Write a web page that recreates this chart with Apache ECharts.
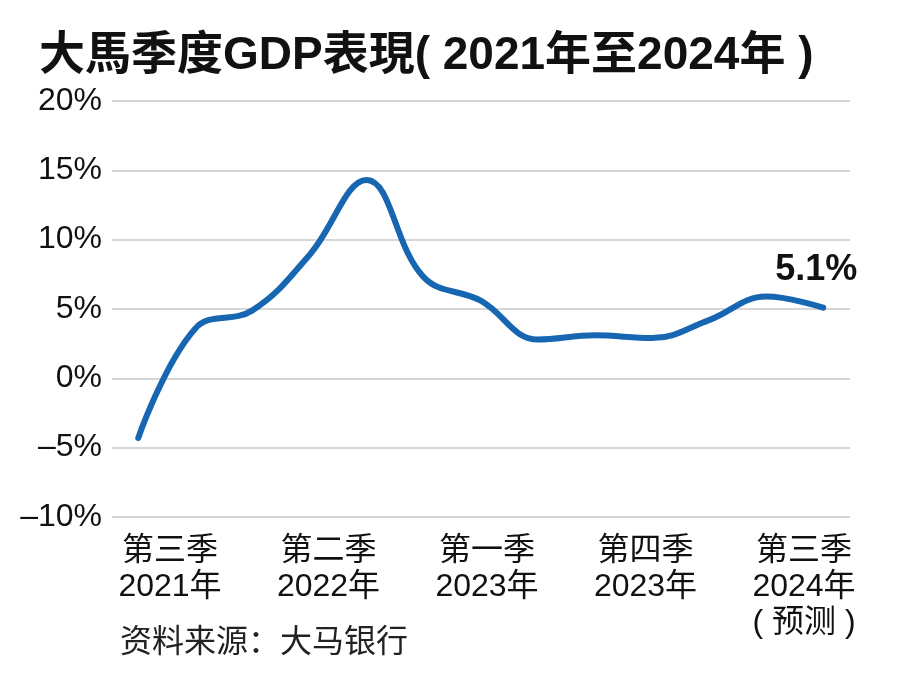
<!DOCTYPE html>
<html>
<head>
<meta charset="utf-8">
<script src="https://cdn.jsdelivr.net/npm/echarts@6/dist/echarts.min.js"></script>
<style>html,body{margin:0;padding:0;background:#fff}#c{width:912px;height:690px}</style>
</head>
<body>
<div id="c"></div>
<script>
var quarters = ['2021Q3','2021Q4','2022Q1','2022Q2','2022Q3','2022Q4','2023Q1','2023Q2','2023Q3','2023Q4','2024Q1','2024Q2','2024Q3'];
var gdpGrowth = [-4.3, 3.6, 4.9, 8.9, 14.3, 7.3, 5.6, 2.8, 3.1, 2.9, 4.2, 5.9, 5.1];
var xTickLabels = ['第三季\n2021年','第二季\n2022年','第一季\n2023年','第四季\n2023年','第三季\n2024年\n( 预测 )'];
var yTickLabels = ['–10%','–5%','0%','5%','10%','15%','20%'];
var titleText = '大馬季度GDP表現( 2021年至2024年 )';
var sourceText = '资料来源：大马银行';

var latin = '"Liberation Sans", Arial, "Noto Sans CJK SC", sans-serif';

var seriesData = gdpGrowth.map(function (v, i) {
  var item = { value: [i, v], name: quarters[i] };
  if (i === gdpGrowth.length - 1) {
    item.label = {
      show: true, position: 'top', distance: 19, offset: [-7, 0],
      formatter: function (p) { return p.value[1].toFixed(1) + '%'; },
      fontSize: 36, fontWeight: 'bold', color: '#111', lineHeight: 36,
      fontFamily: latin
    };
  }
  return item;
});

var chart = echarts.init(document.getElementById('c'), null, { renderer: 'canvas' });
chart.setOption({
  backgroundColor: '#ffffff',
  animation: false,
  title: [
    { text: titleText, left: 34, top: 28,
      textStyle: { fontSize: 46, fontWeight: 'bold', color: '#111', fontFamily: '"Liberation Sans", "Noto Sans CJK TC", sans-serif' } },
    { text: sourceText, left: 115, top: 619,
      textStyle: { fontSize: 32, fontWeight: 'normal', color: '#222', fontFamily: '"Noto Sans CJK SC", sans-serif' } }
  ],
  grid: [
    { left: 112, right: 62, top: 101, bottom: 173, containLabel: false },
    { left: 170, right: 108, top: 101, bottom: 173, containLabel: false }
  ],
  xAxis: [
    { type: 'value', gridIndex: 0, min: -0.46, max: 12.47, show: false, splitLine: { show: false } },
    { type: 'category', gridIndex: 1, data: xTickLabels, boundaryGap: false,
      axisLine: { show: false }, axisTick: { show: false }, splitLine: { show: false },
      axisLabel: { interval: 0, margin: 16, fontSize: 32, lineHeight: 36, color: '#111', fontFamily: latin } }
  ],
  yAxis: [
    { type: 'value', gridIndex: 0, min: -10, max: 20, interval: 5,
      axisLine: { show: false }, axisTick: { show: false },
      splitLine: { show: true, lineStyle: { color: '#c9c9c9', width: 1.5 } },
      axisLabel: { margin: 10, fontSize: 32, color: '#111', fontFamily: latin,
        formatter: function (v, idx) { return yTickLabels[idx]; } } },
    { type: 'value', gridIndex: 1, min: -10, max: 20, show: false, splitLine: { show: false } }
  ],
  series: [
    { type: 'line', xAxisIndex: 0, yAxisIndex: 0, data: seriesData,
      smooth: 0.4, showSymbol: true, symbol: 'circle', symbolSize: 1,
      lineStyle: { color: '#1766b1', width: 6, cap: 'round' },
      itemStyle: { color: '#1766b1' } }
  ]
});
</script>
</body>
</html>
